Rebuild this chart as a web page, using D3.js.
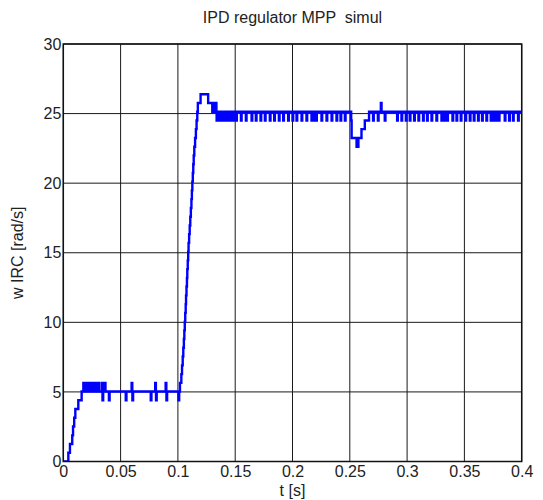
<!DOCTYPE html>
<html>
<head>
  <meta charset="utf-8">
  <title>IPD regulator MPP simul</title>
  <style>
    body { margin: 0; background: #fff; }
    text { font-family: "Liberation Sans", Arial, sans-serif; fill: #222; }
  </style>
</head>
<body>
  <svg width="543" height="500"></svg>
  <script src="https://d3js.org/d3.v7.min.js"></script>
  <script>

  // axis ticks
  var xTicks = [0, 0.05, 0.1, 0.15, 0.2, 0.25, 0.3, 0.35, 0.4];
  var xTickLabels = ["0", "0.05", "0.1", "0.15", "0.2", "0.25", "0.3", "0.35", "0.4"];
  var yTicks = [0, 5, 10, 15, 20, 25, 30];

  // start-up staircase (time of change, new value)
  var startT = [0, 0.0044, 0.0058, 0.0078, 0.0085, 0.0095, 0.0105, 0.0131];
  var startW = [0, 0.63, 1.26, 1.88, 2.51, 3.14, 3.77, 4.40];

  // first plateau at 5.03 rad/s : times of the one-sample spikes
  var hi5 = [0.0175, 0.0187, 0.0199, 0.0211, 0.0223, 0.0235, 0.0247, 0.0259, 0.0271, 0.0283,
             0.0295, 0.0305, 0.0335, 0.0362, 0.0596, 0.0802, 0.0893];
  var lo5 = [0.0342, 0.0398, 0.0545, 0.0603, 0.0763, 0.0809, 0.0900, 0.1005];

  // step to 25 rad/s and overshoot
  var riseT = [0.1018, 0.1030, 0.1036, 0.1042, 0.1047, 0.1052, 0.1056, 0.1060, 0.1064, 0.1068,
               0.1071, 0.1075, 0.1079, 0.1082, 0.1086, 0.1090, 0.1093, 0.1098, 0.1103, 0.1108,
               0.1113, 0.1118, 0.1122, 0.1126, 0.1130, 0.1134, 0.1138, 0.1143, 0.1150, 0.1157,
               0.1163, 0.1169, 0.1174, 0.1198, 0.1264, 0.1300, 0.1306, 0.1312, 0.1318, 0.1324,
               0.1330];
  var riseW = [5.65, 6.28, 6.91, 7.54, 8.17, 8.80, 9.42, 10.05, 10.68, 11.31,
               11.94, 12.57, 13.19, 13.82, 14.45, 15.08, 15.71, 16.34, 16.96, 17.59,
               18.22, 18.85, 19.48, 20.11, 20.73, 21.36, 21.99, 22.62, 23.25, 23.88,
               24.50, 25.13, 25.76, 26.39, 25.76, 25.13, 25.76, 25.13, 25.76, 25.13,
               25.76];

  // plateau at 25.13 rad/s before the load step
  var lo25a = [0.1338, 0.1348, 0.1358, 0.1368, 0.1378, 0.1388, 0.1398, 0.1408, 0.1418, 0.1428,
               0.1438, 0.1448, 0.1458, 0.1468, 0.1478, 0.1488, 0.1498, 0.1508, 0.1550, 0.1593,
               0.1643, 0.1680, 0.1721, 0.1759, 0.1802, 0.1840, 0.1881, 0.1919, 0.1962, 0.2000,
               0.2035, 0.2079, 0.2122, 0.2166, 0.2176, 0.2186, 0.2196, 0.2206, 0.2253, 0.2297,
               0.2341, 0.2384, 0.2419, 0.2457];

  // sag at t = 0.25 s
  var sagT = [0.2512, 0.2516, 0.2559, 0.2575, 0.2602, 0.2631];
  var sagW = [24.50, 23.25, 22.62, 23.25, 23.88, 24.50];

  // plateau after the load step
  var hi25 = [0.2771];
  var lo25b = [0.2703, 0.2745, 0.2805, 0.2913, 0.2951, 0.2989, 0.3023, 0.3061, 0.3099, 0.3139,
               0.3174, 0.3213, 0.3256, 0.3300, 0.3310, 0.3320, 0.3330, 0.3340, 0.3350, 0.3396,
               0.3431, 0.3468, 0.3509, 0.3547, 0.3582, 0.3619, 0.3654, 0.3692, 0.3730, 0.3740,
               0.3750, 0.3760, 0.3770, 0.3780, 0.3790, 0.3800, 0.3852, 0.3890, 0.3924, 0.3968];

  var SPIKE = 0.0006; // length of one sample

  function pairs(ts, ws) {
    return ts.map(function(t, i) { return [t, ws[i]]; });
  }

  // plateau with spikes up / down, returns change points
  function plateau(t0, base, up, upW, down, downW) {
    var ev = up.map(function(t) { return [t, upW]; })
      .concat(down.map(function(t) { return [t, downW]; }))
      .sort(function(a, b) { return a[0] - b[0]; });
    var pts = [[t0, base]];
    ev.forEach(function(e) {
      pts.push([e[0], e[1]]);
      pts.push([e[0] + SPIKE, base]);
    });
    return pts;
  }

  var data = []
    .concat(pairs(startT, startW))
    .concat(plateau(0.0160, 5.03, hi5, 5.65, lo5, 4.40))
    .concat(pairs(riseT, riseW))
    .concat(plateau(0.1336, 25.13, [], 25.76, lo25a, 24.50))
    .concat(pairs(sagT, sagW))
    .concat(plateau(0.2668, 25.13, hi25, 25.76, lo25b, 24.50));
  data.push([0.4, data[data.length - 1][1]]);

  var svg = d3.select("svg");
  var plotL = 63.3, plotR = 521.7, plotT = 44, plotB = 461.5;

  var x = d3.scaleLinear().domain([0, 0.4]).range([plotL, plotR]);
  var y = d3.scaleLinear().domain([0, 30]).range([plotB, plotT]);

  // grid
  svg.append("g").selectAll("line").data(xTicks).enter().append("line")
    .attr("x1", function(d) { return x(d); }).attr("x2", function(d) { return x(d); })
    .attr("y1", plotT).attr("y2", plotB)
    .attr("stroke", "#1a1a1a").attr("stroke-width", 1);
  svg.append("g").selectAll("line").data(yTicks).enter().append("line")
    .attr("y1", function(d) { return y(d); }).attr("y2", function(d) { return y(d); })
    .attr("x1", plotL).attr("x2", plotR)
    .attr("stroke", "#1a1a1a").attr("stroke-width", 1);

  // axes (labels only, box drawn below)
  svg.append("g")
    .attr("transform", "translate(0," + plotB + ")")
    .call(d3.axisBottom(x).tickValues(xTicks)
      .tickFormat(function(d, i) { return xTickLabels[i]; })
      .tickSize(0).tickPadding(4));
  svg.append("g")
    .attr("transform", "translate(" + plotL + ",0)")
    .call(d3.axisLeft(y).tickValues(yTicks).tickSize(0).tickPadding(2));
  svg.selectAll(".domain").remove();
  svg.selectAll(".tick text")
    .attr("font-family", "Liberation Sans, Arial, sans-serif")
    .attr("font-size", 16)
    .attr("fill", "#2a2a2a");

  // signal
  svg.append("clipPath").attr("id", "plot")
    .append("rect").attr("x", plotL).attr("y", plotT - 5)
    .attr("width", plotR - plotL).attr("height", plotB - plotT + 5);

  var line = d3.line()
    .x(function(d) { return x(d[0]); })
    .y(function(d) { return y(d[1]); })
    .curve(d3.curveStepAfter);

  svg.append("path")
    .datum(data)
    .attr("clip-path", "url(#plot)")
    .attr("fill", "none")
    .attr("stroke", "#0000ff")
    .attr("stroke-width", 2.4)
    .attr("d", line);

  // box
  svg.append("rect")
    .attr("x", plotL).attr("y", plotT)
    .attr("width", plotR - plotL).attr("height", plotB - plotT)
    .attr("fill", "none").attr("stroke", "#111").attr("stroke-width", 1.5);

  // texts
  svg.append("text")
    .attr("x", (plotL + plotR) / 2).attr("y", 23)
    .attr("text-anchor", "middle").attr("font-size", 16)
    .style("white-space", "pre")
    .text("IPD regulator MPP  simul");
  svg.append("text")
    .attr("x", (plotL + plotR) / 2).attr("y", 496)
    .attr("text-anchor", "middle").attr("font-size", 16)
    .text("t [s]");
  svg.append("text")
    .attr("transform", "translate(23," + (plotT + plotB) / 2 + ") rotate(-90)")
    .attr("text-anchor", "middle").attr("font-size", 16)
    .text("w IRC [rad/s]");
  </script>
</body>
</html>
